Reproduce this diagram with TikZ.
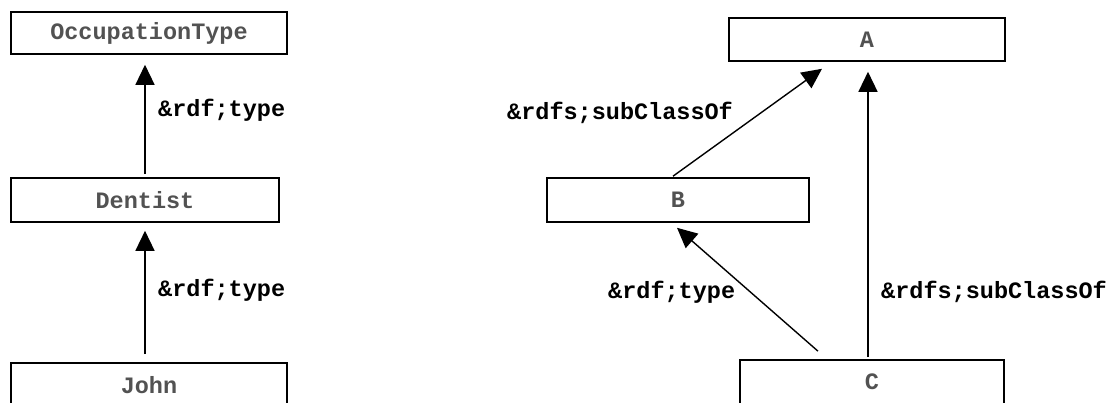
\documentclass[tikz,border=0pt]{standalone}
\usepackage{fontspec}
\setmonofont{Liberation Mono}
\usetikzlibrary{arrows.meta,calc}

\tikzset{
  classbox/.style={draw=black, line width=1.6pt, rectangle, inner sep=0pt,
    text=black!68, font=\ttfamily\bfseries\fontsize{23.5}{28}\selectfont},
  rel/.style={draw=black, line width=1.4pt,
    -{Triangle[length=20pt,width=19pt]}},
  rellabel/.style={anchor=west, inner sep=0pt, text=black,
    font=\ttfamily\bfseries\fontsize{23.5}{28}\selectfont}
}

\begin{document}
\begin{tikzpicture}[x=1pt,y=-1pt]
  \useasboundingbox (0,0) rectangle (1109,403);

  % left chain: John -> Dentist -> OccupationType
  \node[classbox, minimum width=276pt, minimum height=42pt] (ot) at (149,33) {OccupationType};
  \node[classbox, minimum width=268pt, minimum height=44pt] (dentist) at (145,200) {Dentist};
  \node[classbox, minimum width=276pt, minimum height=44pt] (john) at (149,385) {John};

  \draw[rel, shorten <=3pt, shorten >=10pt] (dentist.north) -- (dentist.north |- ot.south);
  \draw[rel, shorten <=8pt, shorten >=8pt] (dentist.south |- john.north) -- (dentist.south);

  \node[rellabel] (l1) at (158,110) {\&rdf;type};
  \node[rellabel] (l2) at (158,290) {\&rdf;type};

  % right group: class hierarchy A, B, C
  \node[classbox, minimum width=276pt, minimum height=43pt] (a) at (867,39.5) {A};
  \node[classbox, minimum width=262pt, minimum height=44pt] (b) at (678,200) {B};
  \node[classbox, minimum width=264pt, minimum height=44pt] (c) at (872,382) {C};

  \draw[rel] ($(b.north)+(-5,-1)$) -- ($(a.south)+(-45,7)$);
  \draw[rel, shorten <=2pt, shorten >=10pt] ($(a.south |- c.north)+(1,0)$) -- ($(a.south)+(1,0)$);
  \draw[rel] ($(c.north)+(-54,-8)$) -- ($(b.south)+(-1,5)$);

  \node[rellabel] (l3) at (507,113) {\&rdfs;subClassOf};
  \node[rellabel] (l4) at (608,292) {\&rdf;type};
  \node[rellabel] (l5) at (881,292) {\&rdfs;subClassOf};
\end{tikzpicture}
\end{document}
